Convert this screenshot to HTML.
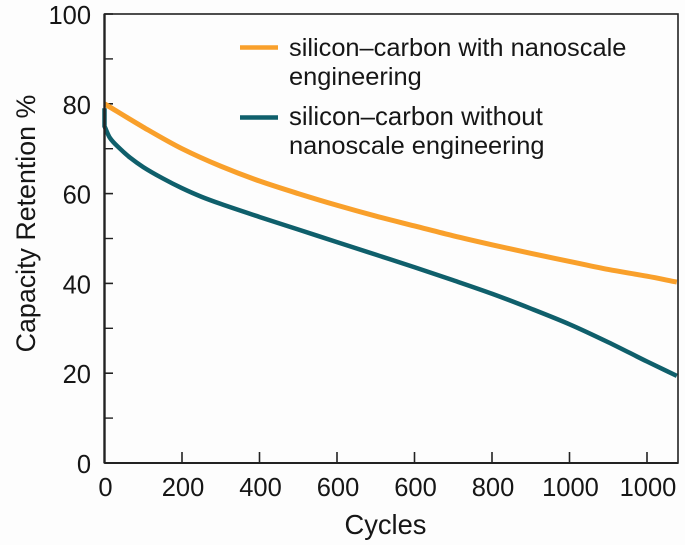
<!DOCTYPE html>
<html lang="en">
<head>
<meta charset="utf-8">
<title>Capacity Retention vs Cycles</title>
<style>
html,body{margin:0;padding:0;background:#fdfdfd;}
body{width:685px;height:545px;overflow:hidden;}
svg{display:block;font-family:"Liberation Sans",sans-serif;fill:#161616;}
text{fill:#161616;}
</style>
</head>
<body>
<svg id="chart" width="685" height="545" viewBox="0 0 685 545" xmlns="http://www.w3.org/2000/svg">
  <g id="ticks"></g>
  <g id="series"></g>
  <rect x="104.5" y="14" width="573.5" height="449" fill="none" stroke="#222" stroke-width="1.6"></rect>
  <line x1="104.5" y1="14" x2="104.5" y2="463" stroke="#222" stroke-width="2.4"></line>
  <line x1="104.5" y1="463" x2="678" y2="463" stroke="#222" stroke-width="2"></line>
  <text x="385.5" y="534" text-anchor="middle" font-size="27.3">Cycles</text>
  <text transform="translate(35,223.5) rotate(-90)" text-anchor="middle" font-size="26.8">Capacity Retention %</text>
  <g>
    <g>
      <line x1="240" y1="47.5" x2="278" y2="47.5" stroke="#f9a02b" stroke-width="4.5"></line>
      <text x="289" y="56" font-size="25.4">silicon–carbon with nanoscale</text>
      <text x="289" y="85" font-size="25.4">engineering</text>
    </g>
    <g>
      <line x1="240" y1="117.5" x2="278" y2="117.5" stroke="#0f5f6b" stroke-width="4.5"></line>
      <text x="289" y="125" font-size="25.8">silicon–carbon without</text>
      <text x="289" y="154" font-size="25.4">nanoscale engineering</text>
    </g>
  </g>
</svg>
<script>
var xTickValues = [0, 200, 400, 600, 800, 1000, 1200, 1400];
var xTickLabels = ["0", "200", "400", "600", "600", "800", "1000", "1000"];
var yTickValues = [0, 20, 40, 60, 80, 100];
var yMinorTicks = [10, 30, 50, 70, 90];
var orangeCycles = [0, 100, 200, 300, 400, 500, 600, 700, 800, 900, 1000, 1100, 1200, 1300, 1400, 1477];
var orangeValues = [80, 74.8, 70, 66.1, 62.8, 60, 57.4, 55, 52.8, 50.6, 48.6, 46.7, 44.9, 43.1, 41.6, 40.3];
var tealCycles = [0, 0, 14, 40, 66, 100, 150, 200, 250, 300, 400, 500, 600, 700, 800, 900, 1000, 1100, 1200, 1300, 1400, 1477];
var tealValues = [79, 75, 72.4, 70, 68, 65.9, 63.4, 61.2, 59.3, 57.7, 54.8, 52, 49.2, 46.4, 43.6, 40.7, 37.7, 34.4, 30.9, 26.9, 22.6, 19.4];

var NS = 'http://www.w3.org/2000/svg';
function xScale(v) { return 104.5 + v * 77.5 / 200; }
function yScale(v) { return 463 - v * 4.49; }
function make(tag, parent) {
  var el = document.createElementNS(NS, tag);
  parent.appendChild(el);
  return el;
}
function smoothPath(xs, ys) {
  var pts = xs.map(function (c, i) { return [xScale(c), yScale(ys[i])]; });
  var d = 'M' + pts[0][0].toFixed(2) + ' ' + pts[0][1].toFixed(2);
  while (pts.length > 1 && pts[1][0] === pts[0][0]) {
    d += 'L' + pts[1][0].toFixed(2) + ' ' + pts[1][1].toFixed(2);
    pts.shift();
  }
  var n = pts.length, s = [], m = [], i;
  for (i = 0; i < n - 1; i++) { s.push((pts[i + 1][1] - pts[i][1]) / (pts[i + 1][0] - pts[i][0])); }
  m[0] = s[0];
  m[n - 1] = s[n - 2];
  for (i = 1; i < n - 1; i++) {
    var h0 = pts[i][0] - pts[i - 1][0], h1 = pts[i + 1][0] - pts[i][0];
    var w1 = 2 * h1 + h0, w2 = h1 + 2 * h0;
    m[i] = (w1 + w2) / (w1 / s[i - 1] + w2 / s[i]);
  }
  for (i = 0; i < n - 1; i++) {
    var h = (pts[i + 1][0] - pts[i][0]) / 3;
    d += 'C' + (pts[i][0] + h).toFixed(2) + ' ' + (pts[i][1] + m[i] * h).toFixed(2) + ' ' +
      (pts[i + 1][0] - h).toFixed(2) + ' ' + (pts[i + 1][1] - m[i + 1] * h).toFixed(2) + ' ' +
      pts[i + 1][0].toFixed(2) + ' ' + pts[i + 1][1].toFixed(2);
  }
  return d;
}

var ticks = document.getElementById('ticks');
xTickValues.forEach(function (v, i) {
  var x = xScale(v);
  if (i > 0) {
    var t = make('line', ticks);
    t.setAttribute('x1', x); t.setAttribute('x2', x);
    t.setAttribute('y1', 452); t.setAttribute('y2', 463);
    t.setAttribute('stroke', '#222'); t.setAttribute('stroke-width', '1.6');
    
    
  }
  var l = make('text', ticks);
  l.setAttribute('x', x + 1);
  l.setAttribute('y', 496);
  l.setAttribute('text-anchor', 'middle');
  l.setAttribute('font-size', '25.5');
  l.textContent = xTickLabels[i];
  
  
});
yTickValues.forEach(function (v) {
  var y = yScale(v);
  var t = make('line', ticks);
  t.setAttribute('x1', 104.5); t.setAttribute('x2', 113);
  t.setAttribute('y1', y); t.setAttribute('y2', y);
  t.setAttribute('stroke', '#222'); t.setAttribute('stroke-width', '1.6');
  
  
  var l = make('text', ticks);
  l.setAttribute('x', 91);
  l.setAttribute('y', y + 10);
  l.setAttribute('text-anchor', 'end');
  l.setAttribute('font-size', '25.5');
  l.textContent = String(v);
  
  
});
yMinorTicks.forEach(function (v) {
  var y = yScale(v);
  var t = make('line', ticks);
  t.setAttribute('x1', 104.5); t.setAttribute('x2', 113);
  t.setAttribute('y1', y); t.setAttribute('y2', y);
  t.setAttribute('stroke', '#222'); t.setAttribute('stroke-width', '1.4');
  
  
});

var series = document.getElementById('series');
var teal = make('path', series);
teal.setAttribute('d', smoothPath(tealCycles, tealValues));
teal.setAttribute('fill', 'none');
teal.setAttribute('stroke', '#0f5f6b');
teal.setAttribute('stroke-width', '4.5');


var orange = make('path', series);
orange.setAttribute('d', smoothPath(orangeCycles, orangeValues));
orange.setAttribute('fill', 'none');
orange.setAttribute('stroke', '#f9a02b');
orange.setAttribute('stroke-width', '5');


</script>
</body>
</html>
